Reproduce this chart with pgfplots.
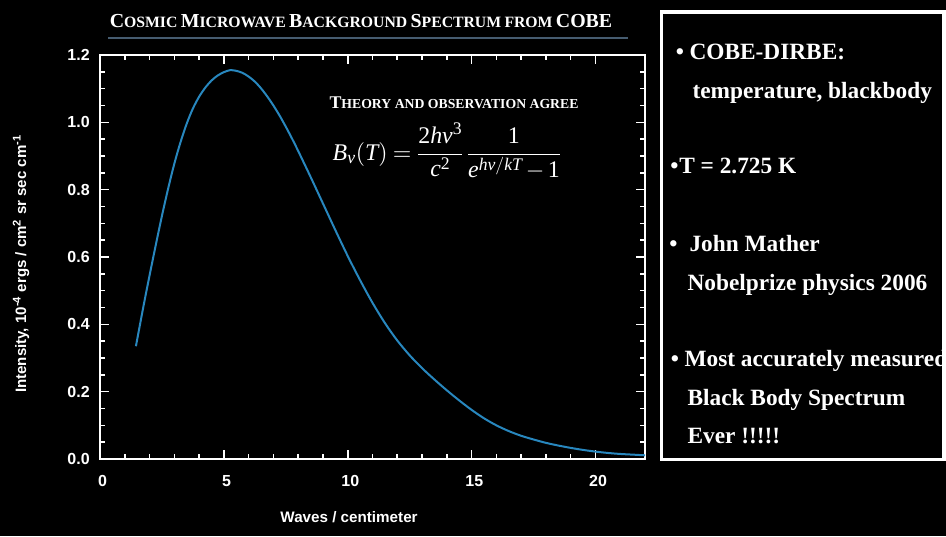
\documentclass[border=0pt]{standalone}
\usepackage{amsmath}
\usepackage{mathptmx}
\usepackage[no-math]{fontspec}
\setmainfont{Liberation Serif}
\newfontfamily\sans{Liberation Sans}
\usepackage{pgfplots}
\pgfplotsset{compat=1.18}

\definecolor{curve}{RGB}{40,135,190}
\definecolor{rulecol}{RGB}{70,92,112}

% fake small caps
\newcommand\Tb[1]{{\fontsize{14.9}{14.9}\selectfont #1}}
\newcommand\Ts[1]{{\fontsize{11.8}{11.8}\selectfont #1}}
\newcommand\Ab[1]{{\fontsize{13.4}{13.4}\selectfont #1}}
\newcommand\As[1]{{\fontsize{10.3}{10.3}\selectfont #1}}
\newcommand\boxfont{\fontsize{17.5}{17.5}\selectfont\bfseries}
\newcommand\I[1]{\textit{#1}}
\newcommand\R[1]{\textrm{#1}}

\begin{document}
\begin{tikzpicture}
\path[use as bounding box] (0,0) rectangle (709.5pt,-402pt);
\fill[black] (0,0) rectangle (709.5pt,-402pt);

\begin{axis}[
    at={(75pt,-41.25pt)}, anchor=north west,
    width=408.75pt, height=303pt, scale only axis,
    xmin=0, xmax=22, ymin=0, ymax=1.2,
    xtick={0,5,10,15,20}, minor x tick num=4,
    ytick={0,0.2,0.4,0.6,0.8,1.0,1.2}, minor y tick num=3,
    tick align=inside,
    major tick length=6.75pt, minor tick length=3.75pt,
    axis line style={white, line width=1.4pt},
    every tick/.style={white, line width=1.2pt},
    tick label style={white, font=\sans\bfseries\fontsize{12}{12}\selectfont},
    /pgf/number format/assume math mode=true,
    yticklabel style={/pgf/number format/fixed, /pgf/number format/fixed zerofill,
        /pgf/number format/precision=1, xshift=-4.2pt},
    xticklabel style={yshift=-8.6pt, xshift=2pt},
    xlabel={Waves / centimeter},
    xlabel style={white, font=\sans\bfseries\fontsize{11.4}{11.4}\selectfont,
        at={(axis description cs:0.457,-0.144)}, anchor=center},
    ylabel={Intensity, 10$^{\text{-4}}$ ergs / cm$^{\text{2}}$ sr sec cm$^{\text{-1}}$},
    ylabel style={white, font=\sans\bfseries\fontsize{11.3}{11.3}\selectfont,
        at={(axis description cs:-0.145,0.483)}, anchor=center},
]
\addplot[color=curve, line width=1.5pt, smooth] coordinates {
(1.45,0.335) (1.75,0.452) (2.0,0.545) (2.25,0.635) (2.5,0.722) (2.75,0.803)
(3.0,0.877) (3.25,0.941) (3.5,0.996) (3.75,1.041) (4.0,1.076) (4.25,1.103)
(4.5,1.124) (4.75,1.139) (5.0,1.149) (5.25,1.155) (5.5,1.153) (5.75,1.147)
(6.0,1.136) (6.25,1.121) (6.5,1.101) (6.75,1.077) (7.0,1.050) (7.25,1.020)
(7.5,0.987) (7.75,0.952) (8.0,0.915) (8.5,0.838) (9.0,0.759) (9.5,0.680)
(10.0,0.603) (10.5,0.531) (11.0,0.464) (11.5,0.404) (12.0,0.352) (12.5,0.308)
(13.0,0.270) (13.5,0.236) (14.0,0.204) (14.5,0.174) (15.0,0.146) (15.5,0.121)
(16.0,0.100) (16.5,0.083) (17.0,0.069) (17.5,0.058) (18.0,0.048) (18.5,0.040)
(19.0,0.033) (19.5,0.027) (20.0,0.022) (20.5,0.018) (21.0,0.015) (21.5,0.013)
(22.0,0.011)
};
\end{axis}

\begin{scope}[x=0.75pt,y=-0.75pt]
% title
\node[anchor=base, white, font=\bfseries, inner sep=0] at (361,27)
  {\Tb{C}\Ts{OSMIC} \Tb{M}\Ts{ICROWAVE} \Tb{B}\Ts{ACKGROUND} \Tb{S}\Ts{PECTRUM} \Ts{FROM} \Tb{COBE}};
\draw[rulecol, line width=1.1pt] (108,38) -- (628,38);
% annotation
\node[anchor=base, white, font=\bfseries, inner sep=0] at (454,108)
  {\Ab{T}\As{HEORY AND OBSERVATION AGREE}};
\node[white, inner sep=0] at (447,151)
  {\fontsize{17.9}{21}\selectfont $\displaystyle \I{B}_{\I{ν}}(\I{T})=\frac{\R{2}\I{hν}^{\R{3}}}{\I{c}^{\R{2}}}\,\frac{\R{1}}{\I{e}^{\I{hν}/\I{kT}}-\R{1}}$};
% right box
\draw[white, line width=2.5pt] (661.7,12) rectangle (944,459.7);
\begin{scope}[every node/.style={white, anchor=base west, inner sep=0, font=\boxfont}]
\node at (675.5,59.3) {•};
\node at (689.3,59.3) {COBE-DIRBE:};
\node at (692.3,98.5) {temperature, blackbody};
\node at (670,173.3) {•};
\node at (679,173.3) {T = 2.725 K};
\node at (669,251.7) {•};
\node at (689.3,251.7) {John Mather};
\node at (687.3,290) {Nobelprize physics 2006};
\node at (670.5,366.7) {•};
\node at (684.3,366.7) {Most accurately measured};
\node at (687.3,405) {Black Body Spectrum};
\node at (687.3,443.3) {Ever !!!!!};
\end{scope}
\end{scope}
\end{tikzpicture}
\end{document}
